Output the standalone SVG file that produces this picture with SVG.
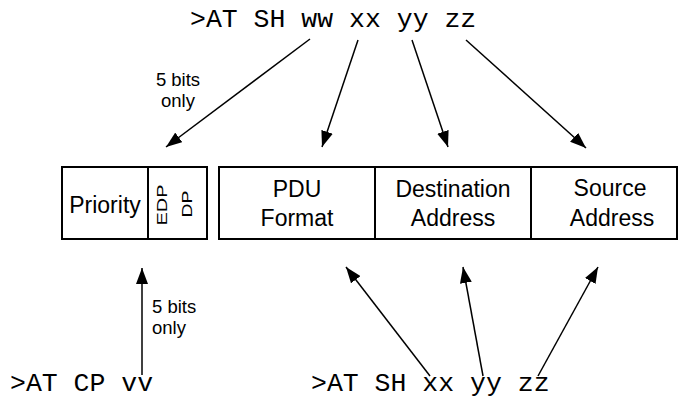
<svg xmlns="http://www.w3.org/2000/svg" width="680" height="404" viewBox="0 0 680 404">
<style>
.box{fill:#fff;stroke:#000;stroke-width:2}
.div{stroke:#000;stroke-width:2}
.lbl{font-family:"Liberation Sans",Arial,sans-serif;font-size:23px;fill:#000}
.small{font-family:"Liberation Sans",Arial,sans-serif;font-size:18.5px;fill:#000}
.vert{font-family:"Liberation Sans",Arial,sans-serif;font-size:14px;fill:#000}
.mono{font-family:"Liberation Mono","Courier New",monospace;font-size:26.5px;fill:#000}
.arr{stroke:#000;stroke-width:1.5;fill:none;marker-end:url(#ah)}
</style>
<defs>
<marker id="ah" markerUnits="userSpaceOnUse" markerWidth="16" markerHeight="12" refX="16" refY="6" orient="auto">
<path d="M0,0 L16,6 L0,12 z" fill="#000"/>
</marker>
</defs>
<g id="cmd-top"><text class="mono" x="190" y="27">&gt;AT SH ww xx yy zz</text></g>
<g id="cmd-cp"><text class="mono" x="10" y="391">&gt;AT CP vv</text></g>
<g id="cmd-bottom"><text class="mono" x="311" y="391">&gt;AT SH xx yy zz</text></g>
<g id="note-top"><text class="small" text-anchor="middle" x="178" y="86">5 bits</text><text class="small" text-anchor="middle" x="178" y="107">only</text></g>
<g id="note-bottom"><text class="small" x="152" y="313">5 bits</text><text class="small" x="152" y="334">only</text></g>
<g id="priority-box">
<rect class="box" x="62" y="167" width="145" height="72"/>
<line class="div" x1="148" y1="167" x2="148" y2="239"/>
<text class="lbl" text-anchor="middle" x="105" y="213">Priority</text>
<text class="vert" text-anchor="middle" transform="translate(167,205) rotate(-90)" textLength="41" lengthAdjust="spacingAndGlyphs">EDP</text>
<text class="vert" text-anchor="middle" transform="translate(192,204) rotate(-90)" textLength="27" lengthAdjust="spacingAndGlyphs">DP</text>
</g>
<g id="address-box">
<rect class="box" x="219" y="167" width="458" height="72"/>
<line class="div" x1="375" y1="167" x2="375" y2="239"/>
<line class="div" x1="531" y1="167" x2="531" y2="239"/>
<text class="lbl" text-anchor="middle" x="297" y="197">PDU</text>
<text class="lbl" text-anchor="middle" x="297" y="226">Format</text>
<text class="lbl" text-anchor="middle" x="453" y="197">Destination</text>
<text class="lbl" text-anchor="middle" x="453" y="226">Address</text>
<text class="lbl" text-anchor="middle" x="610" y="196">Source</text>
<text class="lbl" text-anchor="middle" x="612" y="226">Address</text>
</g>
<g id="connectors">
<line class="arr" x1="310" y1="39" x2="166" y2="147"/>
<line class="arr" x1="358" y1="40" x2="322" y2="147"/>
<line class="arr" x1="412" y1="40" x2="448" y2="147"/>
<line class="arr" x1="466" y1="40" x2="586" y2="148"/>
<line class="arr" x1="142" y1="375" x2="142" y2="268"/>
<line class="arr" x1="430" y1="376" x2="346" y2="267"/>
<line class="arr" x1="483" y1="376" x2="463" y2="267"/>
<line class="arr" x1="538" y1="376" x2="598" y2="267"/>
</g>
</svg>
